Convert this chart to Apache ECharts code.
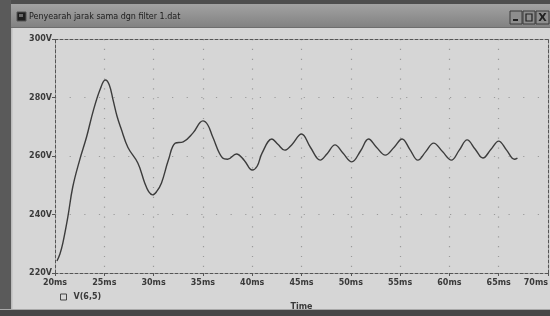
<!DOCTYPE html>
<html>
<head>
<meta charset="utf-8">
<script src="https://cdn.jsdelivr.net/npm/echarts@6/dist/echarts.min.js"></script>
<style>
html,body{margin:0;padding:0;background:#d6d6d6;}
#c{width:550px;height:316px;}
</style>
</head>
<body>
<div id="c"></div>
<script>
var titleText = 'Penyearah jarak sama dgn filter 1.dat';
var seriesName = 'V(6,5)';
var xTicks = [20, 25, 30, 35, 40, 45, 50, 55, 60, 65, 70];
var yTicks = [220, 240, 260, 280, 300];
var timeMs = [20.2,20.5,20.8,21.3,21.8,22.5,23.2,23.9,24.6,25.1,25.5,25.9,26.3,26.7,27.4,28.4,29.1,29.5,29.9,30.3,30.8,31.5,32.2,33.0,34.0,35.0,35.5,36.0,37.0,37.5,38.4,39.2,40.0,40.5,41.0,42.0,42.6,43.3,44.0,45.0,45.9,46.9,47.6,48.4,49.2,50.1,51.0,51.8,52.6,53.5,54.4,55.2,56.0,56.8,57.6,58.4,59.3,60.2,61.0,61.8,62.6,63.4,64.2,65.0,65.8,66.6,66.9];
var voltV = [224.1,226.5,230.3,239.1,249.4,258.6,266.5,275.7,283.0,286.0,284.4,279.0,273.5,269.4,262.9,257.6,250.8,247.8,246.7,247.8,250.8,258.6,264.4,264.8,267.9,272.0,270.6,266.5,259.3,258.9,260.7,258.5,255.2,256.5,261.0,265.8,264.0,262.0,263.8,267.5,263.0,258.6,260.8,263.8,261.0,258.0,261.8,265.8,263.0,260.3,263.0,265.8,262.2,258.6,261.5,264.4,261.5,258.6,262.0,265.5,262.4,259.3,262.2,265.1,262.0,258.9,259.3];

var data = timeMs.map(function(t, i){ return [t, voltV[i]]; });
var chart = echarts.init(document.getElementById('c'), null, {renderer:'canvas'});
var lblFont = {fontFamily:'DejaVu Sans', fontSize:8, fontWeight:'bold', color:'#3a3a3a'};
var dashBorder = {color:'#555', width:1, type:[3,2]};
var option = {
  animation:false,
  backgroundColor:'#d6d6d6',
  grid:{left:55, right:2, top:39, bottom:43, containLabel:false, outerBoundsMode:'none'},
  legend:{
    left:55, top:288, itemWidth:6, itemHeight:6, itemGap:4,
    data:[{name:seriesName, icon:'rect', itemStyle:{color:'rgba(0,0,0,0)', borderColor:'#444', borderWidth:1}}],
    textStyle:{fontFamily:'DejaVu Sans', fontSize:8, fontWeight:'bold', color:'#3a3a3a', padding:[0,0,0,2]}
  },
  xAxis:[{
    type:'value', min:20, max:70, interval:5,
    name:'Time', nameLocation:'middle', nameGap:30,
    nameTextStyle:lblFont,
    axisLine:{show:true, onZero:false, lineStyle:dashBorder},
    axisTick:{show:true, length:3, lineStyle:{color:'#555'}},
    axisLabel:Object.assign({margin:6, alignMaxLabel:'right', formatter:function(v){return xTicks.indexOf(v)>=0 ? v+'ms' : '';}}, lblFont),
    splitLine:{show:true, lineStyle:{color:'#9a9a9a', width:1.2, type:[1.2, 8.66]}}
  },{
    type:'value', min:20, max:70, interval:5, position:'top',
    axisLine:{show:true, onZero:false, lineStyle:dashBorder},
    axisTick:{show:false}, axisLabel:{show:false}, splitLine:{show:false}
  }],
  yAxis:[{
    type:'value', min:220, max:300, interval:20,
    axisLine:{show:true, onZero:false, lineStyle:dashBorder},
    axisTick:{show:true, length:3, lineStyle:{color:'#555'}},
    axisLabel:Object.assign({margin:3, formatter:function(v){return yTicks.indexOf(v)>=0 ? v+'V' : '';}}, lblFont),
    splitLine:{show:true, lineStyle:{color:'#9a9a9a', width:1.2, type:[1.2, 13.43]}}
  },{
    type:'value', min:220, max:300, interval:20, position:'right',
    axisLine:{show:true, onZero:false, lineStyle:dashBorder},
    axisTick:{show:false}, axisLabel:{show:false}, splitLine:{show:false}
  }],
  series:[{
    name:seriesName, type:'line', data:data, smooth:0.4,
    showSymbol:false, symbol:'none',
    lineStyle:{color:'#3c3c3c', width:1.4},
    itemStyle:{color:'#3c3c3c'}
  }],
  graphic:[
    {type:'rect', shape:{x:0,y:0,width:550,height:4}, style:{fill:'#4e4e4e'}, z:10},
    {type:'rect', shape:{x:11,y:4,width:539,height:23}, style:{fill:new echarts.graphic.LinearGradient(0,0,0,1,[{offset:0,color:'#a2a2a2'},{offset:1,color:'#828282'}])}, z:10},
    {type:'rect', shape:{x:11,y:27,width:539,height:1}, style:{fill:'#6e6e6e'}, z:10},
    {type:'rect', shape:{x:0,y:0,width:11,height:316}, style:{fill:'#5a5a5a'}, z:11},
    {type:'rect', shape:{x:11,y:28,width:1.5,height:282}, style:{fill:'#bcbcbc'}, z:11},
    {type:'rect', shape:{x:0,y:309,width:550,height:1}, style:{fill:'#a8a8a8'}, z:11},
    {type:'rect', shape:{x:0,y:310,width:550,height:6}, style:{fill:'#474747'}, z:11},
    {type:'rect', shape:{x:17,y:12,width:9,height:9}, style:{fill:'#1e1e1e', stroke:'#555', lineWidth:1}, z:12},
    {type:'rect', shape:{x:19,y:14,width:4,height:3}, style:{fill:'#6a6a6a'}, z:13},
    {type:'text', x:29, y:16.5, style:{text:titleText, fontFamily:'DejaVu Sans', fontSize:8, fill:'#1c1c1c', verticalAlign:'middle'}, z:12},
    {type:'rect', shape:{x:510,y:11,width:12,height:13}, style:{fill:'#8e8e8e', stroke:'#3a3a3a', lineWidth:1}, z:12},
    {type:'rect', shape:{x:513,y:19,width:5,height:2}, style:{fill:'#222'}, z:13},
    {type:'rect', shape:{x:523,y:11,width:12,height:13}, style:{fill:'#8e8e8e', stroke:'#3a3a3a', lineWidth:1}, z:12},
    {type:'rect', shape:{x:526,y:14,width:6,height:7}, style:{fill:'none', stroke:'#222', lineWidth:1.2}, z:13},
    {type:'rect', shape:{x:536,y:11,width:13,height:13}, style:{fill:'#8e8e8e', stroke:'#3a3a3a', lineWidth:1}, z:12},
    {type:'text', x:542.5, y:18, style:{text:'X', fontFamily:'DejaVu Sans', fontSize:11, fontWeight:'bold', fill:'#222', align:'center', verticalAlign:'middle'}, z:13}
  ]
};
chart.setOption(option);
</script>
</body>
</html>
